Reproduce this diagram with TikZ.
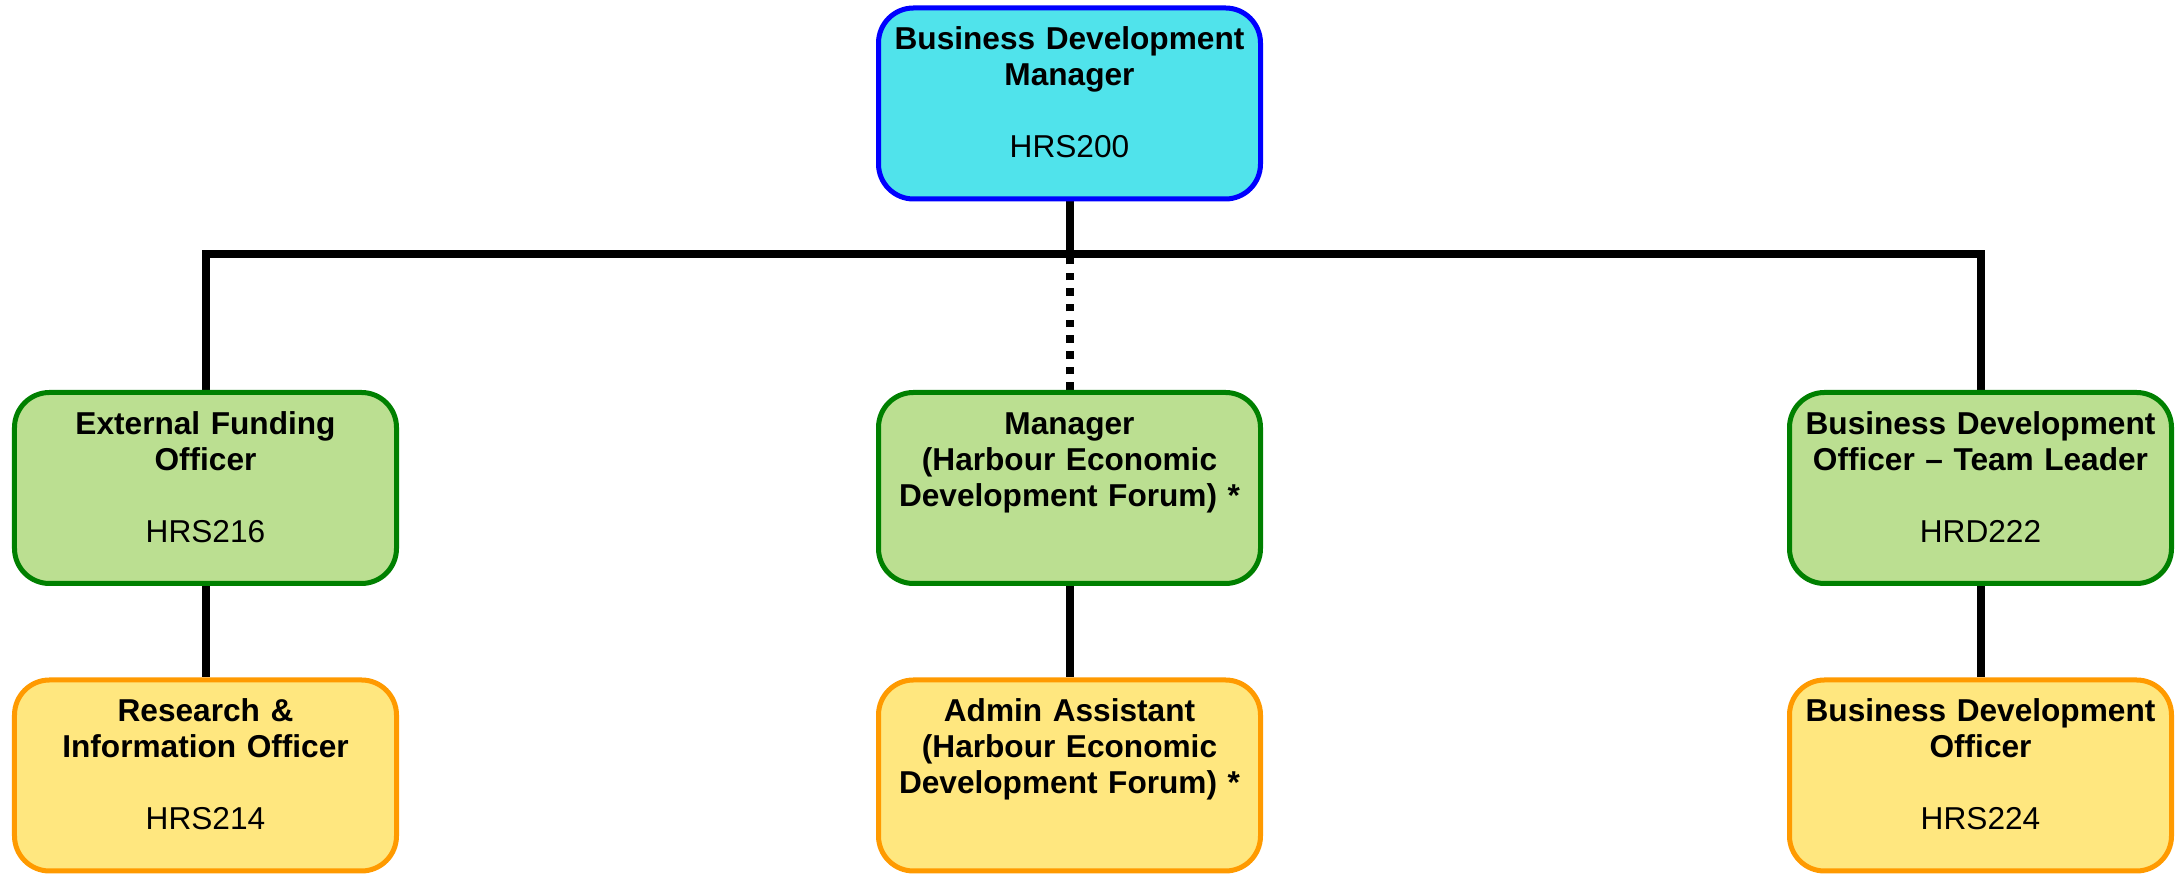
\documentclass[tikz,border=0pt]{standalone}
\usepackage{fontspec}
\setmainfont{Liberation Sans}
\usepackage{xcolor}
\usetikzlibrary{positioning,calc,backgrounds}

\definecolor{headfill}{HTML}{50E3EB}
\definecolor{headdraw}{HTML}{0000FF}
\definecolor{leadfill}{HTML}{BBDF91}
\definecolor{leaddraw}{HTML}{008000}
\definecolor{stafffill}{HTML}{FFE77F}
\definecolor{staffdraw}{HTML}{FF9A00}

\begin{document}
\begin{tikzpicture}[
    role/.style={draw, line width=0.05cm, rounded corners=0.35cm,
      minimum width=3.82cm, minimum height=1.91cm, text width=3.7cm,
      inner xsep=0.05cm, align=center, text height=0.23cm, text depth=1.30cm,
      font=\fontsize{9pt}{10.24pt}\selectfont\bfseries},
    head/.style={role, fill=headfill, draw=headdraw},
    lead/.style={role, fill=leadfill, draw=leaddraw},
    staff/.style={role, fill=stafffill, draw=staffdraw},
    link/.style={line width=0.08cm},
    dotlink/.style={link, dash pattern=on 0.075cm off 0.082cm}
  ]
    \useasboundingbox (0,0) rectangle (21.75,8.75);

    % Manager
    \node[head] (bdm) at (10.695,7.715) {Business Development\\Manager\\[0.36cm]\textmd{HRS200}};

    % Second row
    \node[lead] (efo) at (2.055,3.87) {External Funding\\Officer\\[0.36cm]\textmd{HRS216}};
    \node[lead] (hedfm) at (10.695,3.87) {Manager\\(Harbour Economic\\Development Forum) *};
    \node[lead] (bdotl) at (19.805,3.87) {Business Development\\Officer – Team Leader\\[0.36cm]\textmd{HRD222}};

    % Third row
    \node[staff] (rio) at (2.055,0.995) {Research \&\\Information Officer\\[0.36cm]\textmd{HRS214}};
    \node[staff] (hedfa) at (10.695,0.995) {Admin Assistant\\(Harbour Economic\\Development Forum) *};
    \node[staff] (bdo) at (19.805,0.995) {Business Development\\Officer\\[0.36cm]\textmd{HRS224}};

    % Reporting lines
    \coordinate (hub) at (10.695,6.21);
    \begin{scope}[on background layer]
      \draw[link] (bdm.south) -- (hub);
      \draw[link] (efo.north) |- (hub) -| (bdotl.north);
      \draw[dotlink] (hedfm.north) -- (hub);
      \draw[link] (efo.south) -- (rio.north);
      \draw[link] (hedfm.south) -- (hedfa.north);
      \draw[link] (bdotl.south) -- (bdo.north);
    \end{scope}
\end{tikzpicture}
\end{document}
